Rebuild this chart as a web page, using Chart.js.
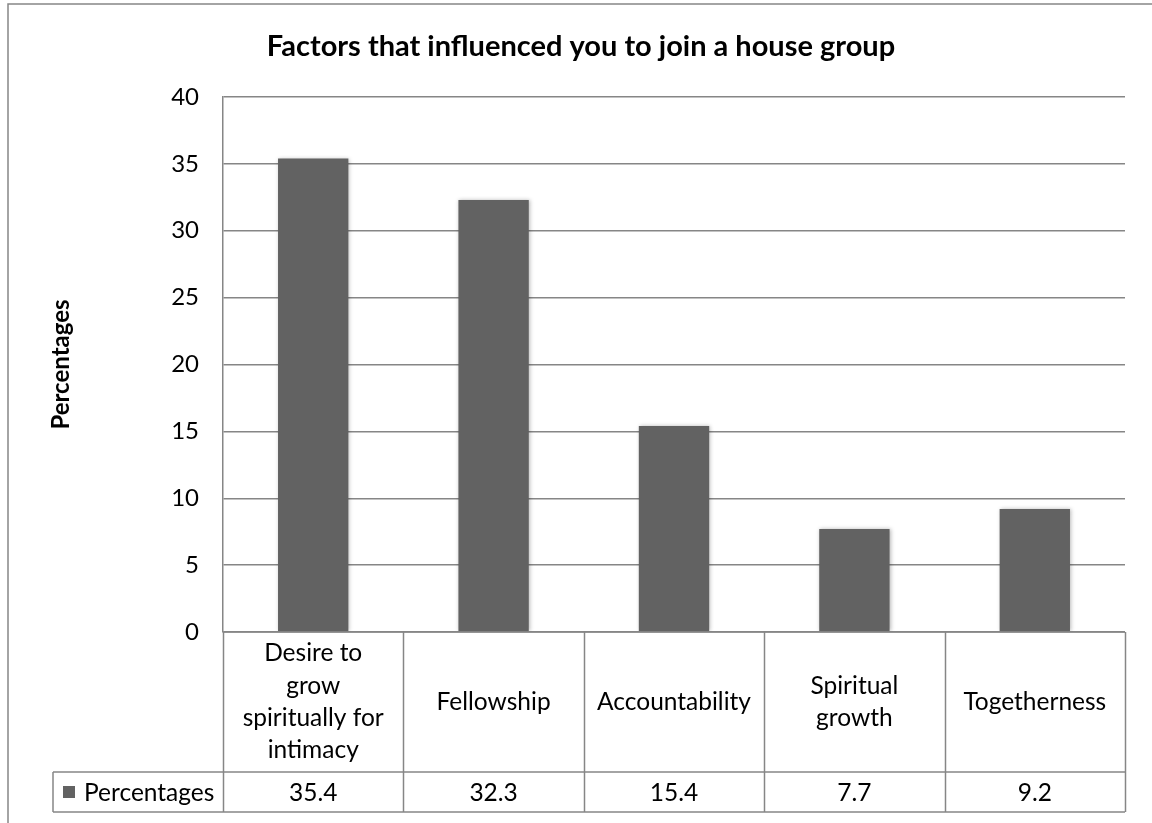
<!DOCTYPE html>
<html>
<head>
<meta charset="utf-8">
<script src="https://cdn.jsdelivr.net/npm/chart.js@4"></script>
<style>
  body { margin: 0; background: #fff; }
  #wrap { width: 1152px; height: 823px; }
</style>
</head>
<body>
<div id="wrap"><canvas id="chart" width="1152" height="823"></canvas></div>
<script>
// data
const chartTitle = "Factors that influenced you to join a house group";
const seriesName = "Percentages";
const categories = [
  ["Desire to", "grow", "spiritually for", "intimacy"],
  ["Fellowship"],
  ["Accountability"],
  ["Spiritual", "growth"],
  ["Togetherness"],
];
const percentages = [35.4, 32.3, 15.4, 7.7, 9.2];
const yMin = 0;
const yMax = 40;
const yStep = 5;

const FONT = "Lato, 'Open Sans', sans-serif";
const lineGray = "#868686";
const barGray = "#626262";

// tabel data di bawah sumbu x + judul + bingkai
const tablePlugin = {
  id: "tablePlugin",
  beforeDatasetsDraw(chart) {
    const ctx = chart.ctx;
    ctx.save();
    ctx.shadowColor = "rgba(0,0,0,0.28)";
    ctx.shadowBlur = 4;
    ctx.shadowOffsetX = 1;
    ctx.shadowOffsetY = 0;
  },
  afterDatasetsDraw(chart) {
    chart.ctx.restore();
  },
  afterDraw(chart) {
    const ctx = chart.ctx;
    const area = chart.chartArea;
    const x = chart.scales.x;
    const colW = x.width / categories.length;
    const rowTop = area.bottom;
    const rowMid = 772;
    const rowBot = 812;
    const legendLeft = 53;

    ctx.save();
    // bingkai luar
    ctx.strokeStyle = lineGray;
    ctx.lineWidth = 1.5;
    ctx.beginPath();
    ctx.moveTo(8, 823);
    ctx.lineTo(8, 4);
    ctx.lineTo(1152, 4);
    ctx.stroke();

    // judul
    ctx.fillStyle = "#000";
    ctx.font = "bold 29px " + FONT;
    ctx.textAlign = "center";
    ctx.textBaseline = "middle";
    ctx.fillText(chartTitle, 581, 47);

    // garis tabel
    ctx.beginPath();
    ctx.moveTo(area.left, rowTop);
    ctx.lineTo(area.right, rowTop);
    ctx.moveTo(legendLeft, rowMid);
    ctx.lineTo(area.right, rowMid);
    ctx.moveTo(legendLeft, rowBot);
    ctx.lineTo(area.right, rowBot);
    ctx.moveTo(legendLeft, rowMid);
    ctx.lineTo(legendLeft, rowBot);
    for (let i = 0; i <= categories.length; i++) {
      const cx = Math.round(area.left + i * colW) + 0.5;
      ctx.moveTo(cx, rowTop);
      ctx.lineTo(cx, rowBot);
    }
    ctx.stroke();

    // isi tabel
    ctx.font = "24.5px " + FONT;
    ctx.fillStyle = "#000";
    const lh = 32.3;
    categories.forEach((lines, i) => {
      const cx = x.getPixelForValue(i);
      const cy = (rowTop + rowMid) / 2;
      const start = cy - ((lines.length - 1) * lh) / 2;
      lines.forEach((ln, j) => ctx.fillText(ln, cx, start + j * lh));
      ctx.fillText(percentages[i].toFixed(1), cx, (rowMid + rowBot) / 2 + 1);
    });

    // legend key
    ctx.fillStyle = barGray;
    ctx.fillRect(63, 786, 12, 12);
    ctx.fillStyle = "#000";
    ctx.textAlign = "left";
    ctx.fillText(seriesName, 84, (rowMid + rowBot) / 2 + 1);
    ctx.restore();
  },
};

const ctx = document.getElementById("chart").getContext("2d");
const chart = new Chart(ctx, {
  type: "bar",
  data: {
    labels: categories,
    datasets: [
      {
        label: seriesName,
        data: percentages,
        backgroundColor: barGray,
        barPercentage: 0.39,
        categoryPercentage: 1,
      },
    ],
  },
  options: {
    responsive: false,
    animation: false,
    layout: { padding: { top: 97, right: 27, left: 0, bottom: 0 } },
    plugins: {
      legend: { display: false },
      tooltip: { enabled: false },
    },
    scales: {
      x: {
        ticks: { display: false },
        grid: { display: false },
        border: { display: false },
        afterFit(scale) {
          scale.height = 191;
        },
      },
      y: {
        min: yMin,
        max: yMax,
        ticks: {
          stepSize: yStep,
          padding: 24,
          color: "#000",
          font: { family: FONT, size: 24 },
        },
        grid: { color: lineGray, lineWidth: 1.5, drawTicks: false },
        border: { display: true, color: lineGray, width: 1.5 },
        title: {
          display: true,
          text: seriesName,
          color: "#000",
          font: { family: FONT, size: 24, weight: "bold" },
          padding: { top: 47, bottom: 0 },
        },
        afterFit(scale) {
          scale.width = 223;
        },
      },
    },
  },
  plugins: [tablePlugin],
});
</script>
</body>
</html>
